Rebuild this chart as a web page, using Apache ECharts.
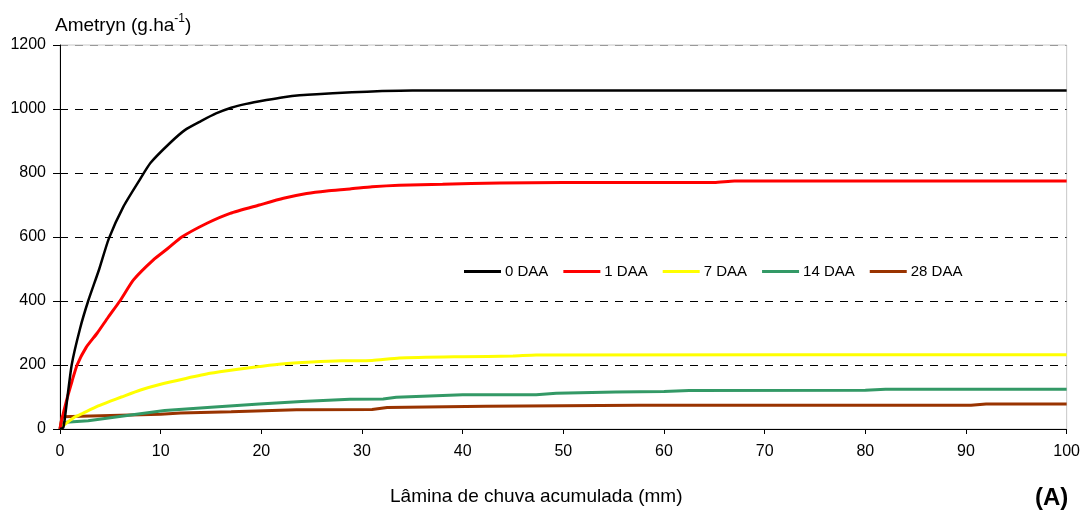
<!DOCTYPE html>
<html>
<head>
<meta charset="utf-8">
<script src="https://cdn.jsdelivr.net/npm/echarts@6/dist/echarts.min.js"></script>
<style>html,body{margin:0;padding:0;background:#fff}#c{width:1083px;height:514px}</style>
</head>
<body>
<div id="c"></div>
<script>
const seriesNames = ['0 DAA', '1 DAA', '7 DAA', '14 DAA', '28 DAA'];
const xTicks = [0, 10, 20, 30, 40, 50, 60, 70, 80, 90, 100];
const yTicks = [0, 200, 400, 600, 800, 1000, 1200];

const x0 = [0, 0.33, 0.5, 1.16, 2.0, 2.8, 3.9, 4.85, 6.3, 7.9, 9.0, 10.9, 12.4, 14.0, 15.5, 17.0, 18.5, 20.5, 22.2, 23.8, 25.5, 27.1, 29.0, 32.0, 35.0, 100];
const y0 = [0, 5, 38, 200, 315, 400, 500, 595, 695, 778, 832, 893, 934, 962, 986, 1004, 1016, 1028, 1037, 1043, 1046, 1049, 1052, 1056, 1058, 1058];

const x1 = [0, 0.15, 0.66, 1.2, 1.7, 2.6, 3.7, 4.8, 5.95, 7.3, 9.25, 10.7, 12.1, 14.6, 16.9, 19.8, 22.2, 24.5, 26.5, 28.8, 31.0, 33.7, 38.0, 43.7, 50.0, 65.0, 67.0, 100];
const y1 = [0, 25, 90, 150, 200, 255, 300, 350, 400, 466, 528, 564, 600, 643, 674, 700, 721, 736, 744, 750, 757, 762, 765, 769, 770, 770, 775, 775];

const x7 = [0, 0.3, 1.5, 2.0, 3.8, 5.0, 6.1, 8.0, 10.0, 12.5, 14.9, 17.5, 19.8, 22.0, 25.0, 28.0, 31.0, 33.7, 40.0, 45.0, 47.3, 100];
const y7 = [0, 10, 38, 45, 72, 87, 100, 122, 140, 158, 174, 186, 195, 203, 209, 213, 214, 222, 226, 228, 231, 232];

const x14 = [0, 0.2, 2.8, 6.1, 10.4, 15.0, 19.8, 24.0, 28.8, 32.1, 33.4, 40.0, 47.3, 49.3, 55.2, 60.0, 62.5, 80.0, 82.0, 100];
const y14 = [0, 20, 26, 40, 58, 68, 78, 86, 93, 94, 99, 107, 107, 112, 116, 117, 120, 121, 124, 124];

const x28 = [0, 0.2, 5.0, 10.0, 12.0, 17.0, 23.5, 31.0, 32.5, 42.3, 57.5, 90.5, 92.0, 100];
const y28 = [0, 38, 42, 46, 50, 54, 60, 61, 67, 71, 74, 74, 78, 78];

const colors = ['#000000', '#ff0000', '#ffff00', '#339966', '#993300'];
const widths = [2.5, 3, 3, 3, 3];
const smoothness = [0.2, 0.2, 0.2, 0, 0];
const xs = [x0, x1, x7, x14, x28];
const ys = [y0, y1, y7, y14, y28];

const font = 'Liberation Sans, Arial, sans-serif';
const chart = echarts.init(document.getElementById('c'));
chart.setOption({
  animation: false,
  backgroundColor: '#fff',
  textStyle: { fontFamily: font },
  title: [
    { text: '{a|Ametryn (g.ha}{s|-1}{a|)}', left: 55, top: 13, padding: 0,
      textStyle: { fontWeight: 'normal', rich: {
        a: { fontSize: 19, fontWeight: 'normal', fontFamily: font, color: '#000', lineHeight: 22, verticalAlign: 'bottom' },
        s: { fontSize: 12, fontWeight: 'normal', fontFamily: font, color: '#000', lineHeight: 22, verticalAlign: 'top' } } } },
    { text: 'Lâmina de chuva acumulada (mm)', left: 390, top: 487, padding: 0,
      textStyle: { fontSize: 19, fontWeight: 'normal', fontFamily: font, color: '#000' } },
    { text: '(A)', left: 1035, top: 486, padding: 0,
      textStyle: { fontSize: 24, fontWeight: 'bold', fontFamily: font, color: '#000' } }
  ],
  legend: {
    left: 459, top: 259, icon: 'rect', itemWidth: 37, itemHeight: 3, itemGap: 15,
    data: seriesNames,
    textStyle: { fontSize: 15, color: '#000', fontFamily: font, padding: [0, 0, 0, -1] }
  },
  grid: { left: 60, right: 15, top: 45, bottom: 85, show: true, borderColor: '#c8c8c8', borderWidth: 1 },
  xAxis: {
    type: 'value', min: xTicks[0], max: xTicks[xTicks.length - 1], interval: 10,
    axisLine: { show: true, lineStyle: { color: '#000', width: 1 } },
    axisTick: { show: true, length: 5, lineStyle: { color: '#000' } },
    axisLabel: { fontSize: 16, color: '#000', margin: 15, fontFamily: font, formatter: v => String(v) },
    splitLine: { show: false }
  },
  yAxis: {
    type: 'value', min: yTicks[0], max: yTicks[yTicks.length - 1], interval: 200,
    axisLine: { show: true, lineStyle: { color: '#000', width: 1 } },
    axisTick: { show: true, length: 7, lineStyle: { color: '#000' } },
    axisLabel: { fontSize: 16, color: '#000', margin: 14, fontFamily: font, formatter: v => String(v) },
    splitLine: { show: true, lineStyle: { color: ['#000', '#000', '#000', '#000', '#000', '#000', '#999'], type: [8, 7], width: 1 } }
  },
  series: seriesNames.map((n, i) => ({
    name: n, type: 'line', symbol: 'none', showSymbol: false,
    smooth: smoothness[i] || false,
    color: colors[i],
    lineStyle: { color: colors[i], width: widths[i] },
    data: xs[i].map((x, j) => [x, ys[i][j]]),
    z: 10 - i
  }))
});
</script>
</body>
</html>
